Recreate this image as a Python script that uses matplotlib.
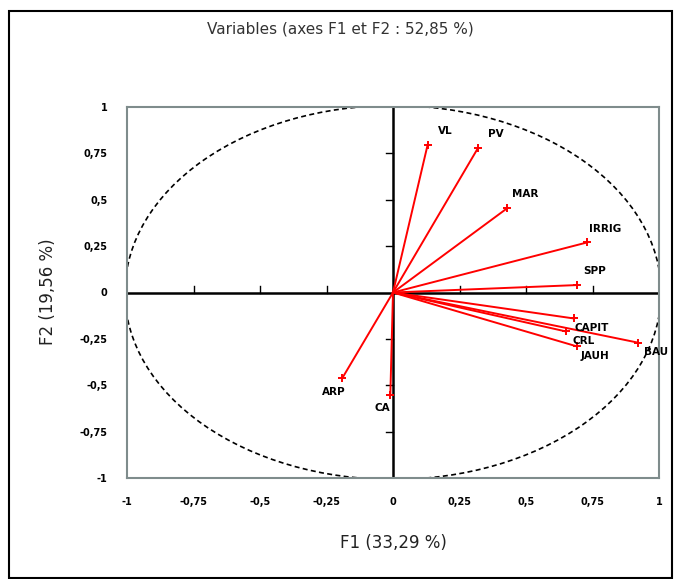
import matplotlib
matplotlib.use("Agg")
import matplotlib.pyplot as plt
import numpy as np
from matplotlib.patches import Ellipse, Rectangle

# ---- data ----
variables = ["VL", "PV", "MAR", "IRRIG", "SPP", "CAPIT", "CRL", "JAUH", "BAU", "ARP", "CA"]
f1 = [0.13, 0.32, 0.43, 0.73, 0.69, 0.68, 0.65, 0.69, 0.92, -0.19, -0.01]
f2 = [0.795, 0.78, 0.455, 0.27, 0.04, -0.14, -0.21, -0.29, -0.27, -0.46, -0.55]
ticks = [-1, -0.75, -0.5, -0.25, 0, 0.25, 0.5, 0.75, 1]
tick_labels = ["-1", "-0,75", "-0,5", "-0,25", "0", "0,25", "0,5", "0,75", "1"]
title = "Variables (axes F1 et F2 : 52,85 %)"
xlabel = "F1 (33,29 %)"
ylabel = "F2 (19,56 %)"

W, H = 674, 579
fig = plt.figure(figsize=(W / 100, H / 100), dpi=100)
fig.patch.set_facecolor("white")

# outer frame
fig.patches.append(Rectangle((9 / W, 1 - 578 / H), (672 - 9) / W, (578 - 11) / H,
                             transform=fig.transFigure, fill=False, ec="black", lw=1.5))

ax = fig.add_axes([127 / W, 1 - 478 / H, (659 - 127) / W, (478 - 107) / H])
ax.set_xlim(-1, 1)
ax.set_ylim(-1, 1)
for s in ax.spines.values():
    s.set_color("#7f8c8c")
    s.set_linewidth(1.5)

# zero axes
ax.axhline(0, color="black", lw=1.8, zorder=2)
ax.axvline(0, color="black", lw=1.8, zorder=2)
# small ticks on the zero axes
tl = 0.025
for t in ticks:
    if t in (-1, 0, 1):
        continue
    ax.plot([t, t], [0, tl * 1.4], color="black", lw=1, zorder=2)
    ax.plot([-tl, 0], [t, t], color="black", lw=1, zorder=2)

# correlation circle (slightly larger than the frame, clipped by it)
circ = Ellipse((0, 0), 2.016, 2.016, fill=False, ec="black", lw=1.2, ls=(0, (3, 2)), zorder=1)
ax.add_patch(circ)
circ.set_clip_path(ax.patch)

# vectors
for name, x, y in zip(variables, f1, f2):
    ax.plot([0, x], [0, y], color="#ff0000", lw=1.4, zorder=3)
    ax.plot([x], [y], marker="+", color="#ff0000", ms=6, mew=1.4, zorder=3)
    if x < 0:
        off = (-6, -10)
    elif y > 0:
        off = (13, 10)
    else:
        off = (13, -7)
    ax.annotate(name, (x, y), xytext=off, textcoords="offset points",
                ha="center", va="center", fontsize=7.5, fontweight="bold",
                family="DejaVu Sans", color="black", annotation_clip=False, zorder=4)

ax.set_xticks(ticks)
ax.set_yticks(ticks)
ax.set_xticklabels(tick_labels, fontsize=7, fontweight="bold")
ax.set_yticklabels(tick_labels, fontsize=7, fontweight="bold")
ax.tick_params(length=0, pad=14)
ax.tick_params(axis="x", pad=14)

fig.text(340 / W, 1 - 29 / H, title, ha="center", va="center", fontsize=11,
         family="DejaVu Sans", color="#333333")
fig.text(393 / W, 1 - 543 / H, xlabel, ha="center", va="center", fontsize=12, color="#222222")
fig.text(48 / W, 1 - 292 / H, ylabel, ha="center", va="center", fontsize=12,
         rotation=90, color="#222222")

fig.savefig("out.png", dpi=100)
